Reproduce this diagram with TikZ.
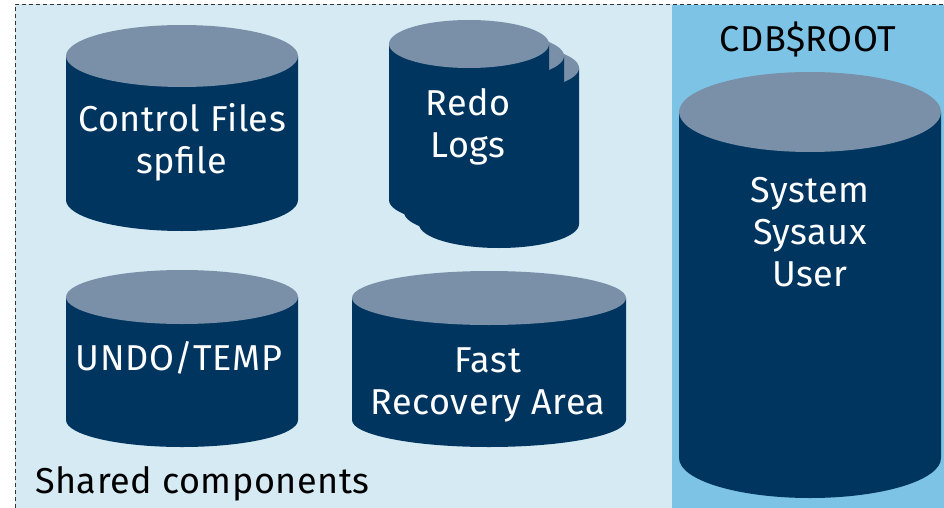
\documentclass[tikz,border=0pt]{standalone}
\usepackage{fontspec}
\setmainfont[LetterSpace=1.5]{Fira Sans}
\definecolor{dbnavy}{RGB}{0,53,96}
\definecolor{dblid}{RGB}{122,144,168}
\definecolor{sharedbg}{RGB}{214,234,244}
\definecolor{rootbg}{RGB}{125,195,229}
\tikzstyle{dbbody}=[fill=dbnavy]
\tikzstyle{dbtop}=[fill=dblid]
\tikzstyle{dbtext}=[text=white, align=center, anchor=base, inner sep=0pt,
  font=\fontsize{36}{42}\selectfont]
\tikzstyle{areatext}=[text=black, anchor=base, inner sep=0pt,
  font=\fontsize{36}{42}\selectfont]
% cylinder: centre x, top y, bottom y, x radius, y radius
\newcommand{\dbcyl}[5]{%
  \fill[dbbody] ({#1-#4},#2) -- ({#1-#4},#3)
    arc[start angle=180, end angle=0, x radius=#4, y radius=#5]
    -- ({#1+#4},#2) -- cycle;
  \fill[dbtop] (#1,#2) ellipse[x radius=#4, y radius=#5];
}
\newcommand{\dblabel}{\node[dbtext]}

\begin{document}
\begin{tikzpicture}[x=1pt, y=-1pt]
\useasboundingbox (0,0) rectangle (944,508);
\clip (0,0) rectangle (944,508);
% areas
\fill[sharedbg] (15,4) rectangle (950,515);
\fill[rootbg] (672,5) rectangle (950,515);
\draw[gray!40!black, dash pattern=on 4pt off 3pt] (15,515) -- (15,4) -- (950,4);
% shared
\dbcyl{182}{56}{200}{116}{31}
\dbcyl{499}{68}{224}{80}{24}
\dbcyl{484}{56}{212}{80}{24}
\dbcyl{469}{44}{200}{80}{24}
\dbcyl{182}{297}{420}{116}{27}
\dbcyl{489}{298}{420}{137}{27}
% root
\dbcyl{810}{112}{458}{131}{40}
\dblabel (ctl) at (182,173) {Control Files\\spfile};
\dblabel (redo) at (468,157) {Redo\\Logs};
\dblabel (undo) at (179,370) {UNDO/TEMP};
\dblabel (fra) at (488,414) {Fast\\Recovery Area};
\dblabel (sys) at (810,286) {System\\Sysaux\\User};
\node[areatext] (root) at (808,52) {CDB\$ROOT};
\node[areatext, anchor=base west] (shared) at (35,493) {Shared components};
\end{tikzpicture}
\end{document}
